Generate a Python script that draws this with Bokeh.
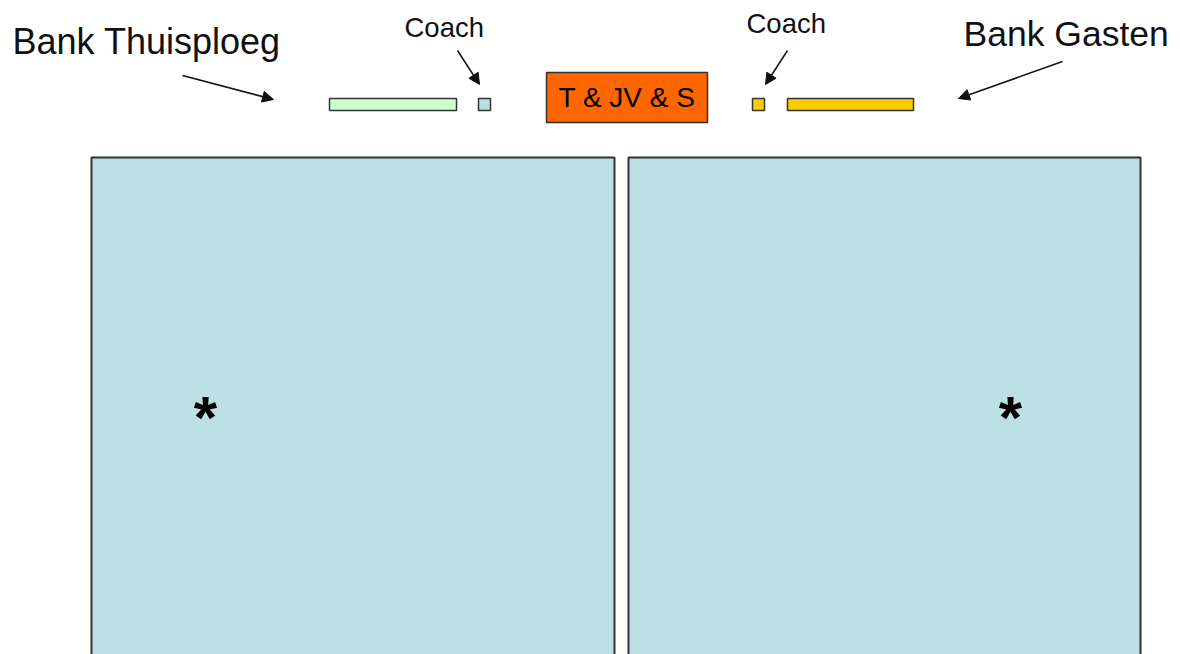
from bokeh.plotting import figure
from bokeh.models import Range1d, Arrow, NormalHead, ColumnDataSource
from bokeh.core.properties import value
from bokeh.embed import file_html
from bokeh.resources import INLINE

# --- diagram elements (screen-pixel coordinates of the layout) ---
court_names = ["Veld links", "Veld rechts"]
court_left = [91, 628]
court_right = [614, 1140]
court_top = [157, 157]
court_bottom = [720, 720]

box_names = ["Bank Thuisploeg", "Coach thuis", "Coach gasten", "Bank Gasten"]
box_left = [329, 478, 752, 787]
box_right = [456, 490, 764, 913]
box_top = [98, 98, 98, 98]
box_bottom = [110, 110, 110, 110]
box_colors = ["#CCFFCC", "#B9DFE3", "#FFCC00", "#FFCC00"]

table_label = "T & JV & S"
table_box = [546, 707, 72, 122]  # left, right, top, bottom

labels = ["Bank Thuisploeg", "Coach", "Coach", "Bank Gasten"]
label_x = [12, 404, 746, 963]
label_y = [41, 27, 23, 33]
label_size = ["36px", "27.5px", "27.5px", "35.5px"]

arrow_start_x = [182, 457, 787, 1062]
arrow_start_y = [75, 50, 50, 61]
arrow_end_x = [273, 479, 765, 958]
arrow_end_y = [99, 84, 84, 98]

star_x = [205, 1010]
star_y = [410, 410]

p = figure(width=1180, height=654, output_backend="svg", toolbar_location=None,
           x_range=Range1d(0, 1180), y_range=Range1d(654, 0),
           min_border=0, outline_line_color=None)
p.axis.visible = False
p.grid.visible = False
p.background_fill_color = "white"

p.quad(left=court_left, right=court_right, top=court_top, bottom=court_bottom,
       fill_color="#BBDFE2", line_color="#333333", line_width=2)

src = ColumnDataSource(dict(l=box_left, r=box_right, t=box_top, b=box_bottom, c=box_colors))
p.quad(left="l", right="r", top="t", bottom="b", fill_color="c", line_color="#333333",
       line_width=1.5, source=src)

p.quad(left=[table_box[0]], right=[table_box[1]], top=[table_box[2]], bottom=[table_box[3]],
       fill_color="#FF6600", line_color="#333333", line_width=1.5)
p.text(x=[(table_box[0] + table_box[1]) / 2], y=[(table_box[2] + table_box[3]) / 2],
       text=[table_label], text_align="center", text_baseline="middle",
       text_font=value("Liberation Sans"), text_font_size="28px", text_color="black")

for t, x, y, s in zip(labels, label_x, label_y, label_size):
    p.text(x=[x], y=[y], text=[t], text_align="left", text_baseline="alphabetic",
           text_font=value("Liberation Sans"), text_font_size=s, text_color="#111111")

for x0, y0, x1, y1 in zip(arrow_start_x, arrow_start_y, arrow_end_x, arrow_end_y):
    p.add_layout(Arrow(x_start=x0, y_start=y0, x_end=x1, y_end=y1, line_color="#111111",
                       line_width=1.5,
                       end=NormalHead(size=11, fill_color="#111111", line_color="#111111")))

p.text(x=star_x, y=star_y, text=["*", "*"], text_align="center", text_baseline="middle",
       text_font=value("Liberation Sans"), text_font_size="60px", text_font_style="bold",
       text_color="black", y_offset=7)

open("out.html", "w").write(file_html(p, INLINE))
